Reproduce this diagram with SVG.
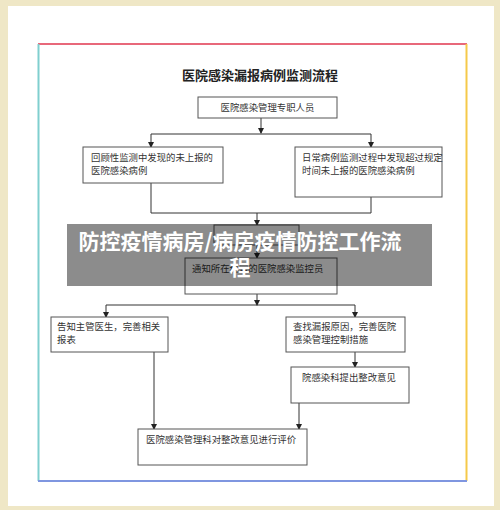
<svg xmlns="http://www.w3.org/2000/svg" width="500" height="510" viewBox="0 0 500 510">
<defs>
<marker id="ah" markerWidth="6" markerHeight="6" refX="5" refY="3" orient="auto" markerUnits="userSpaceOnUse">
<path d="M0,0 L6,3 L0,6 Z" fill="#222"/>
</marker>
<style>
.box{fill:#fff;stroke:#555;stroke-width:1}
.t{font-family:"Noto Sans CJK SC","Noto Sans",sans-serif;font-size:9.4px;fill:#333}
.ln{fill:none;stroke:#333;stroke-width:1}
.ar{fill:none;stroke:#333;stroke-width:1;marker-end:url(#ah)}
</style>
</defs>
<rect x="0" y="0" width="500" height="510" fill="#efe7c6"/>
<rect x="8" y="6" width="486" height="500" fill="#ffffff"/>
<line x1="38" y1="44" x2="467" y2="44" stroke="#e8687a" stroke-width="2"/>
<line x1="38.5" y1="44" x2="38.5" y2="481" stroke="#80cfcf" stroke-width="2"/>
<line x1="466.5" y1="44" x2="466.5" y2="481" stroke="#f5c94a" stroke-width="2"/>
<line x1="38" y1="481" x2="467" y2="481" stroke="#7f96e0" stroke-width="2"/>
<text x="260" y="80" text-anchor="middle" font-family="Noto Sans CJK SC,sans-serif" font-weight="700" font-size="13" fill="#222">医院感染漏报病例监测流程</text>

<g id="connectors">
<line class="ar" x1="261" y1="118" x2="261" y2="133"/>
<polyline class="ln" points="151,134 371,134"/>
<line class="ar" x1="151" y1="134" x2="151" y2="147"/>
<line class="ar" x1="371" y1="134" x2="371" y2="147"/>
<polyline class="ln" points="151,183 151,213 371,213 371,197"/>
<line class="ar" x1="257" y1="213" x2="257" y2="225"/>
<line class="ar" x1="257" y1="245" x2="257" y2="258"/>
<line class="ar" x1="257" y1="294" x2="257" y2="305"/>
<polyline class="ln" points="106,305 355,305"/>
<line class="ar" x1="106" y1="305" x2="106" y2="317"/>
<line class="ar" x1="355" y1="305" x2="355" y2="317"/>
<line class="ar" x1="355" y1="352" x2="355" y2="367"/>
<line class="ar" x1="154" y1="352" x2="154" y2="429"/>
<line class="ar" x1="299" y1="403" x2="299" y2="429"/>
</g>

<g id="n1"><rect class="box" x="198" y="97" width="139" height="21"/><text class="t" x="267.5" y="111" text-anchor="middle">医院感染管理专职人员</text></g>
<g id="n2"><rect class="box" x="83" y="147" width="140" height="36"/><text class="t" x="91" y="161">回顾性监测中发现的未上报的</text><text class="t" x="91" y="174">医院感染病例</text></g>
<g id="n3"><rect class="box" x="295" y="147" width="147" height="50"/><text class="t" x="302" y="161">日常病例监测过程中发现超过规定</text><text class="t" x="302" y="173.5">时间未上报的医院感染病例</text></g>
<g id="n4"><rect class="box" x="214" y="225" width="85" height="20"/></g>
<g id="n5"><rect class="box" x="185" y="258" width="152" height="36"/><text class="t" x="192" y="272">通知所在科室的医院感染监控员</text></g>
<g id="n6"><rect class="box" x="51" y="317" width="117" height="35"/><text class="t" x="57" y="330">告知主管医生，完善相关</text><text class="t" x="57" y="343">报表</text></g>
<g id="n7"><rect class="box" x="286" y="317" width="119" height="35"/><text class="t" x="293" y="330">查找漏报原因，完善医院</text><text class="t" x="293" y="343">感染管理控制措施</text></g>
<g id="n8"><rect class="box" x="291" y="367" width="118" height="36"/><text class="t" x="302" y="381">院感染科提出整改意见</text></g>
<g id="n9"><rect class="box" x="138" y="429" width="169" height="36"/><text class="t" x="146" y="443">医院感染管理科对整改意见进行评价</text></g>

<rect x="67" y="224" width="365" height="62" fill="#000" fill-opacity="0.45"/>
<text x="240" y="249" text-anchor="middle" font-family="Noto Sans CJK SC,sans-serif" font-weight="700" font-size="21" fill="#fff">防控疫情病房/病房疫情防控工作流</text>
<text x="240" y="275" text-anchor="middle" font-family="Noto Sans CJK SC,sans-serif" font-weight="700" font-size="21" fill="#fff">程</text>
</svg>
